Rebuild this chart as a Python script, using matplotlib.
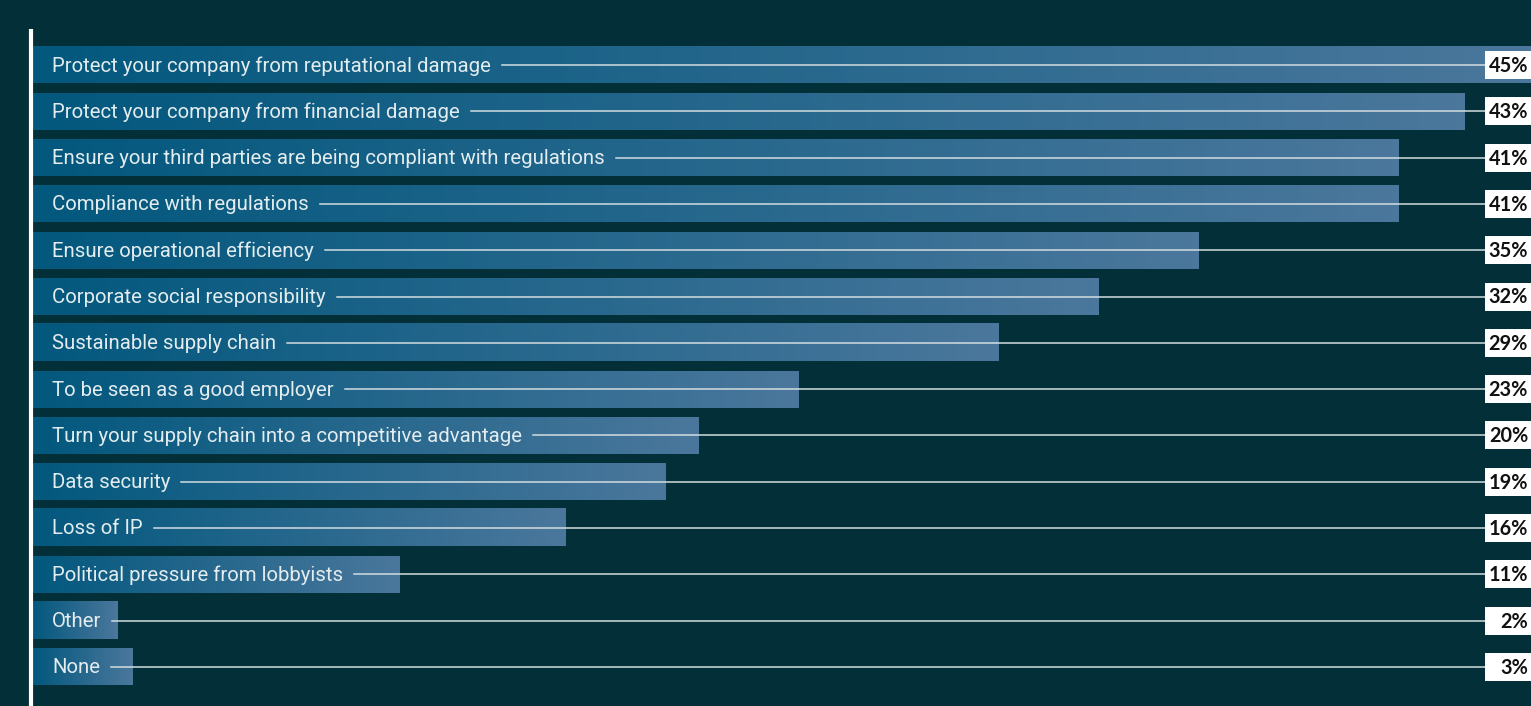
import numpy as np
import matplotlib.pyplot as plt
from matplotlib.patches import Rectangle
from matplotlib.colors import LinearSegmentedColormap

# data
categories = [
    'Protect your company from reputational damage',
    'Protect your company from financial damage',
    'Ensure your third parties are being compliant with regulations',
    'Compliance with regulations',
    'Ensure operational efficiency',
    'Corporate social responsibility',
    'Sustainable supply chain',
    'To be seen as a good employer',
    'Turn your supply chain into a competitive advantage',
    'Data security',
    'Loss of IP',
    'Political pressure from lobbyists',
    'Other',
    'None',
]
values = [45, 43, 41, 41, 35, 32, 29, 23, 20, 19, 16, 11, 2.55, 3]
value_labels = ['45%', '43%', '41%', '41%', '35%', '32%', '29%', '23%', '20%',
                '19%', '16%', '11%', '2%', '3%']

BG = '#032f38'
W, H = 1531, 706
PX_PER_PCT = 33.3
X0 = 33          # pixel where 0% sits
ROW0 = 65        # pixel centre of the first row
PITCH = 46.3

fig = plt.figure(figsize=(W / 100, H / 100), dpi=100, facecolor=BG)
ax = fig.add_axes([0, 0, 1, 1])
ax.set_facecolor(BG)
ax.axis('off')


def px(x):
    return (x - X0) / PX_PER_PCT


cmap = LinearSegmentedColormap.from_list('bar', ['#03587e', '#4b779c'])
grad = np.linspace(0, 1, 256).reshape(1, -1)
bh = 37 / PITCH

for i, v in enumerate(values):
    ax.imshow(grad, cmap=cmap, aspect='auto', interpolation='bicubic',
              extent=(0, v, i + bh / 2, i - bh / 2), zorder=1)

ax.set_xlim(-X0 / PX_PER_PCT, (W - X0) / PX_PER_PCT)
ax.set_ylim((H - ROW0) / PITCH, -ROW0 / PITCH)

# white vertical axis line
ax.plot([px(31), px(31)], [(29 - ROW0) / PITCH, (H - ROW0) / PITCH],
        color='white', lw=3, solid_capstyle='butt', zorder=4)

texts = []
for i, c in enumerate(categories):
    t = ax.text(px(52), i + 0.02, c, color='#e3ecee', fontsize=14.7,
                family='Roboto', va='center', ha='left', zorder=3)
    texts.append(t)

fig.canvas.draw()
r = fig.canvas.get_renderer()
box_l = 1485
for i, t in enumerate(texts):
    bb = t.get_window_extent(r)
    ax.plot([px(bb.x1 + 11), px(box_l)], [i, i], color='#d2dde0', lw=1.1, zorder=3)
    ax.add_patch(Rectangle((px(box_l), i - 14 / PITCH), px(W + 5) - px(box_l), 28 / PITCH,
                           facecolor='white', edgecolor='none', zorder=5))
    ax.text(px(1528), i + 0.02, value_labels[i], color='#111111', fontsize=14.3,
            fontweight='bold', family='Lato', va='center', ha='right', zorder=6)

fig.savefig('out.png', dpi=100, facecolor=BG)
